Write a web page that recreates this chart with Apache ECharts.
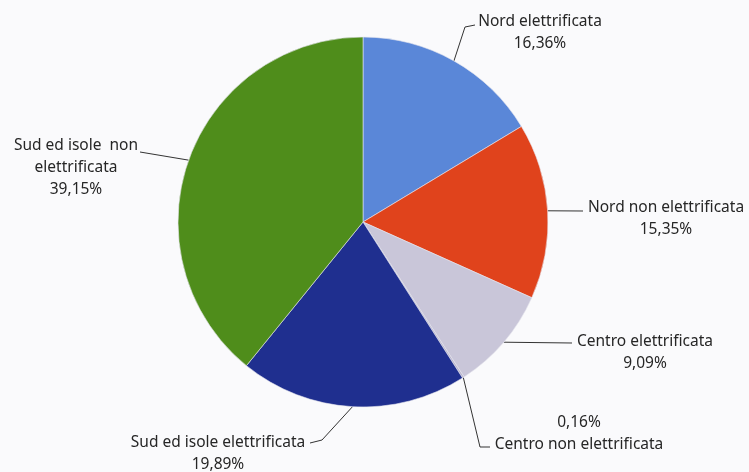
<!DOCTYPE html>
<html lang="it" style="height: 100%">
<head>
  <meta charset="utf-8">
</head>
<body style="height: 100%; margin: 0; background: #fafafc">
  <div id="container" style="height: 100%"></div>

  <script type="text/javascript" src="https://fastly.jsdelivr.net/npm/echarts@6/dist/echarts.min.js"></script>
  <script type="text/javascript">
// categorie e quote (%)
var categories = [
  'Nord elettrificata',
  'Nord non elettrificata',
  'Centro elettrificata',
  'Centro non elettrificata',
  'Sud ed isole elettrificata',
  'Sud ed isole non elettrificata'
];
var shares = [16.36, 15.35, 9.09, 0.16, 19.89, 39.15];
var sliceColors = ['#5a87d8', '#e0431c', '#c9c6d9', '#b9b4cc', '#1f2f8f', '#4f8d1b'];

var dom = document.getElementById('container');
var myChart = echarts.init(dom, null, { renderer: 'canvas' });

// posizione delle etichette: [centro x, centro y, punti della linea dopo il bordo]
var labelSpots = [
  { x: 540, y: 33, line: [[465, 27], [475, 25]] },
  { x: 666, y: 219, line: [[583, 211]] },
  { x: 645, y: 353, line: [[572, 343]] },
  { x: 579, y: 434, line: [[480, 447], [490, 447]] },
  { x: 218, y: 454, line: [[322, 440], [310, 443]] },
  { x: 76, y: 168, line: [[140, 152]] }
];

function pct(v) {
  return v.toFixed(2).replace('.', ',') + '%';
}

var option = {
  backgroundColor: '#fafafc',
  series: [
    {
      type: 'pie',
      center: [363, 222],
      radius: 185,
      startAngle: 90,
      clockwise: true,
      avoidLabelOverlap: false,
      itemStyle: { borderColor: '#e6e6ee', borderWidth: 0.6 },
      label: {
        show: true,
        position: 'outside',
        color: '#262626',
        fontFamily: 'Noto Sans',
        fontSize: 15.5,
        lineHeight: 22,
        align: 'center',
        formatter: function (p) {
          if (p.dataIndex === 3) return pct(p.value) + '\n' + p.name;
          if (p.dataIndex === 5) return 'Sud ed isole  non\nelettrificata\n' + pct(p.value);
          return p.name + '\n' + pct(p.value);
        }
      },
      labelLine: {
        show: true,
        length: 0,
        length2: 0,
        lineStyle: { color: '#333333', width: 1 }
      },
      labelLayout: function (params) {
        var s = labelSpots[params.dataIndex];
        var start = params.labelLinePoints ? params.labelLinePoints[0] : s.line[0];
        return {
          x: s.x,
          y: s.y,
          align: 'center',
          verticalAlign: 'middle',
          labelLinePoints: [start].concat(s.line)
        };
      },
      emphasis: { disabled: true },
      data: categories.map(function (c, i) {
        return { name: c, value: shares[i], itemStyle: { color: sliceColors[i] } };
      })
    }
  ]
};

myChart.setOption(option);
window.addEventListener('resize', myChart.resize);
  </script>
</body>
</html>
